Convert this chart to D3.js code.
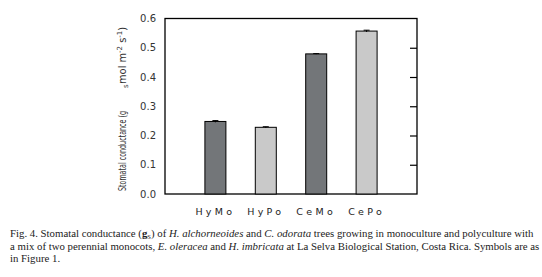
<!DOCTYPE html>
<html>
<head>
<meta charset="utf-8">
<script src="https://d3js.org/d3.v7.min.js"></script>
<style>
  body { margin: 0; background: #fff; }
  .tick text { font-family: "DejaVu Sans", sans-serif; font-size: 10px; fill: #333; }
  .cap { font-family: "Liberation Serif", serif; font-size: 10.8px; fill: #222; }
</style>
</head>
<body>
<svg id="chart" width="542" height="277"></svg>
<script>
// data
var categories = ["HyMo", "HyPo", "CeMo", "CePo"];
var values = [0.248, 0.228, 0.479, 0.557];
var errors = [0.003, 0.002, 0.001, 0.003];
var yTicks = [0, 0.1, 0.2, 0.3, 0.4, 0.5, 0.6];

var svg = d3.select("#chart");
var pLeft = 165, pRight = 417, pTop = 18.5, pBottom = 194;
var step = (pRight - pLeft) / 5;

var x = d3.scalePoint().domain(categories).range([pLeft + step, pRight - step]);
var y = d3.scaleLinear().domain([0, 0.6]).range([pBottom, pTop]);
var barW = 21;
var fills = ["#737679", "#c9c9c9", "#737679", "#c9c9c9"];

// frame
svg.append("rect").attr("x", pLeft).attr("y", pTop).attr("width", pRight - pLeft)
  .attr("height", pBottom - pTop).attr("fill", "none").attr("stroke", "#000").attr("stroke-width", 1.3);

// left axis: labels only
var yl = svg.append("g").attr("transform", "translate(" + pLeft + ",0)")
  .call(d3.axisLeft(y).tickValues(yTicks).tickSize(0).tickPadding(9)
    .tickFormat(d3.format(".1f")));
yl.select(".domain").remove();

// right axis: inward ticks
var yr = svg.append("g").attr("transform", "translate(" + pRight + ",0)")
  .call(d3.axisRight(y).tickValues(yTicks.slice(1, 6)).tickSize(-7).tickFormat(""));
yr.select(".domain").remove();
yr.selectAll("line").attr("stroke", "#000").attr("stroke-width", 1.2);

// bars
svg.selectAll("rect.bar").data(values).enter().append("rect").attr("class", "bar")
  .attr("x", function(d, i) { return x(categories[i]) - barW / 2; })
  .attr("y", function(d) { return y(d); })
  .attr("width", barW)
  .attr("height", function(d) { return pBottom - y(d); })
  .attr("fill", function(d, i) { return fills[i]; })
  .attr("stroke", "#000").attr("stroke-width", 1);

// error bars
var eb = svg.selectAll("g.err").data(values).enter().append("g").attr("class", "err");
eb.append("line")
  .attr("x1", function(d, i) { return x(categories[i]); })
  .attr("x2", function(d, i) { return x(categories[i]); })
  .attr("y1", function(d, i) { return y(d - errors[i]); })
  .attr("y2", function(d, i) { return y(d + errors[i]); })
  .attr("stroke", "#000");
eb.append("line")
  .attr("x1", function(d, i) { return x(categories[i]) - 3; })
  .attr("x2", function(d, i) { return x(categories[i]) + 3; })
  .attr("y1", function(d, i) { return y(d + errors[i]); })
  .attr("y2", function(d, i) { return y(d + errors[i]); })
  .attr("stroke", "#000");

// category labels
svg.selectAll("text.cat").data(categories).enter().append("text").attr("class", "cat")
  .attr("x", function(d) { return x(d); })
  .attr("y", 215)
  .attr("text-anchor", "middle")
  .style("font-family", "DejaVu Sans, sans-serif").style("font-size", "9.5px")
  .style("letter-spacing", "3.3px").attr("fill", "#222")
  .text(function(d) { return d; });

// y label (overlapping as in the original)
var yg = svg.append("g").attr("transform", "translate(126,0) rotate(-90)")
  .style("font-family", "DejaVu Sans, sans-serif").style("font-size", "10px").attr("fill", "#333");
yg.append("text").attr("x", -191).attr("y", 0)
  .attr("textLength", 80).attr("lengthAdjust", "spacingAndGlyphs")
  .text("Stomatal conductance (g");
yg.append("text").attr("x", -88).attr("y", 2).style("font-size", "7px").text("s");
yg.append("text").attr("x", -84).attr("y", 0)
  .attr("textLength", 57).attr("lengthAdjust", "spacingAndGlyphs")
  .html('mol m<tspan dy="-4" font-size="7">-2</tspan><tspan dy="4"> s</tspan><tspan dy="-4" font-size="7">-1</tspan><tspan dy="4">)</tspan>');

// caption
var cap = svg.append("g");
var l1 = cap.append("text").attr("class", "cap").attr("x", 10).attr("y", 237);
l1.append("tspan").text("Fig. 4. Stomatal conductance (");
l1.append("tspan").attr("font-weight", "bold").text("g");
l1.append("tspan").attr("font-size", "6.5px").attr("dy", 1.5).text("S");
l1.append("tspan").attr("dy", -1.5).text(") of ");
l1.append("tspan").attr("font-style", "italic").text("H. alchorneoides");
l1.append("tspan").text(" and ");
l1.append("tspan").attr("font-style", "italic").text("C. odorata");
l1.append("tspan").text(" trees growing in monoculture and polyculture with");
var l2 = cap.append("text").attr("class", "cap").attr("x", 10).attr("y", 249.5);
l2.append("tspan").text("a mix of two perennial monocots, ");
l2.append("tspan").attr("font-style", "italic").text("E. oleracea");
l2.append("tspan").text(" and ");
l2.append("tspan").attr("font-style", "italic").text("H. imbricata");
l2.append("tspan").text(" at La Selva Biological Station, Costa Rica. Symbols are as");
cap.append("text").attr("class", "cap").attr("x", 10).attr("y", 262).text("in Figure 1.");
</script>
</body>
</html>
